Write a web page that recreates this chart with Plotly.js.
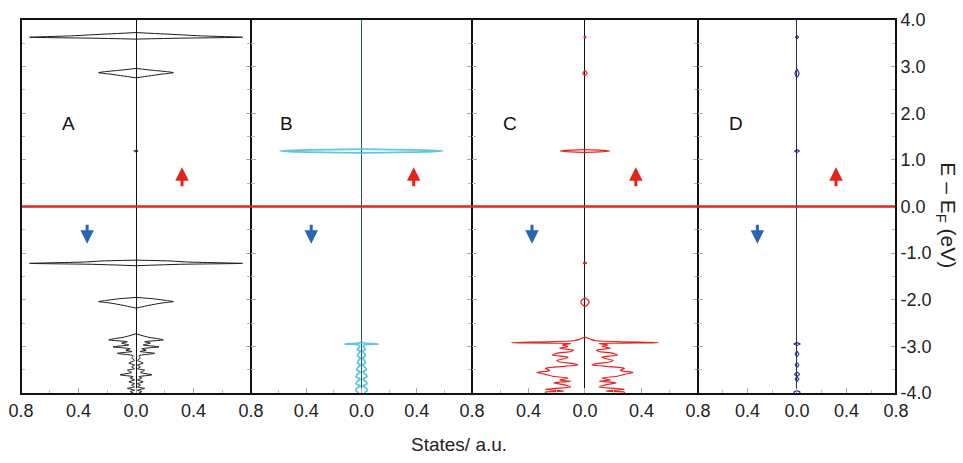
<!DOCTYPE html>
<html>
<head>
<meta charset="utf-8">
<script src="https://cdn.plot.ly/plotly-3.0.1.min.js"></script>
<style>html,body{margin:0;padding:0;background:#fff}</style>
</head>
<body>
<div id="chart" style="width:963px;height:463px"></div>
<script>
// ---------- data ----------
const panelNames = ['A', 'B', 'C', 'D'];

const energyA = [3.75, 3.73, 3.70, 3.66, 3.63, 3.61, 3.59,
  2.96, 2.92, 2.89, 2.87, 2.84, 2.80, 2.76,
  1.21, 1.19, 1.17,
  -1.15, -1.17, -1.19, -1.22, -1.24, -1.27,
  -1.95, -1.98, -2.02, -2.04, -2.07, -2.12, -2.18,
  -2.73, -2.80, -2.86, -2.90, -2.93, -2.97, -3.01, -3.05, -3.08, -3.11, -3.15, -3.20, -3.25, -3.30, -3.36, -3.40,
  -3.44, -3.48, -3.51, -3.56, -3.61, -3.65, -3.68, -3.72, -3.76, -3.80, -3.83, -3.87, -3.90, -3.94, -3.97, -4.00];
const dosA = [0, 0, 0.20, 0.45, 0.74, 0.30, 0,
  0, 0.12, 0.22, 0.26, 0.18, 0.09, 0,
  0, 0.015, 0,
  0, 0.25, 0.35, 0.74, 0.30, 0,
  0, 0.12, 0.22, 0.26, 0.18, 0.09, 0,
  0, 0.08, 0.19, 0.06, 0.10, 0.05, 0.16, 0.04, 0.07, 0.03, 0.13, 0.02, 0.03, 0.01, 0.05, 0.01,
  0.03, 0.01, 0.06, 0.03, 0.11, 0.02, 0.04, 0.01, 0.05, 0.01, 0.03, 0.01, 0.06, 0.01, 0.04, 0.02];

const energyB = [1.23, 1.21, 1.19, 1.17, 1.15,
  -2.90, -2.93, -2.95, -2.97, -3.02, -3.06, -3.10, -3.15, -3.20, -3.25, -3.30, -3.35, -3.40, -3.45,
  -3.50, -3.55, -3.60, -3.65, -3.70, -3.75, -3.80, -3.85, -3.90, -3.95, -4.00];
const dosB = [0, 0.45, 0.59, 0.45, 0,
  0, 0.02, 0.12, 0.02, 0.015, 0.03, 0.01, 0.02, 0.03, 0.01, 0.02, 0.03, 0.01, 0.025,
  0.035, 0.01, 0.03, 0.04, 0.01, 0.03, 0.04, 0.01, 0.035, 0.04, 0.02];

const energyC = [3.65, 3.63, 3.61,
  2.92, 2.86, 2.80,
  1.22, 1.21, 1.19, 1.17, 1.16,
  -1.19, -1.21, -1.23,
  -1.96, -2.00, -2.05, -2.10, -2.15,
  -2.80, -2.85, -2.88, -2.92, -2.94, -2.97, -3.00, -3.04, -3.08, -3.11, -3.15, -3.19, -3.23, -3.26,
  -3.30, -3.33, -3.37, -3.40, -3.44, -3.47, -3.52, -3.56, -3.60, -3.64, -3.68, -3.72, -3.75, -3.78,
  -3.83, -3.87, -3.92, -3.96, -3.98, -4.00];
const dosC = [0, 0.008, 0,
  0, 0.015, 0,
  0, 0.10, 0.175, 0.10, 0,
  0, 0.012, 0,
  0, 0.02, 0.03, 0.02, 0,
  0, 0.04, 0.08, 0.52, 0.10, 0.16, 0.12, 0.18, 0.08, 0.10, 0.20, 0.23, 0.12, 0.14,
  0.20, 0.18, 0.08, 0.05, 0.20, 0.28, 0.25, 0.34, 0.28, 0.23, 0.12, 0.18, 0.10, 0.22,
  0.14, 0.10, 0.28, 0.15, 0.28, 0.28];

const energyD = [3.66, 3.63, 3.60,
  2.95, 2.90, 2.86, 2.80, 2.77,
  1.22, 1.19, 1.16,
  -2.92, -2.95, -2.98,
  -3.10, -3.17, -3.22, -3.35, -3.40, -3.45, -3.55, -3.60, -3.65, -3.70, -3.75,
  -3.95, -3.98, -4.00];
const dosD = [0, 0.012, 0,
  0, 0.010, 0.016, 0.010, 0,
  0, 0.02, 0,
  0, 0.025, 0,
  0, 0.015, 0, 0, 0.015, 0, 0, 0.02, 0, 0.015, 0,
  0, 0.025, 0.02];

const xTickVals = [-0.8, -0.4, 0.0, 0.4, 0.8];
const xTickText = ['0.8', '0.4', '0.0', '0.4', '0.8'];
const yTickVals = [4, 3, 2, 1, 0, -1, -2, -3, -4];
const yTickText = ['4.0', '3.0', '2.0', '1.0', '0.0', '-1.0', '-2.0', '-3.0', '-4.0'];

// ---------- build ----------
const FONT = "'Liberation Sans', Arial, Helvetica, sans-serif";
const curveColors = ['#1a1a1a', '#5ec6dd', '#e8231f', '#2d2d8f'];
const axisLineColors = ['#111111', '#1d5a60', '#111111', '#26266e'];
const zeroWidths = [1, 1.5, 1, 1];
const curveWidths = [1.0, 1.8, 1.2, 1.2];
const energies = [energyA, energyB, energyC, energyD];
const doses = [dosA, dosB, dosC, dosD];

function sideTrace(E, d, sign) {
  const xs = [], ys = [];
  for (let i = 0; i < E.length; i++) {
    xs.push(sign * d[i]); ys.push(E[i]);
    if (i < E.length - 1 && d[i] === 0 && d[i + 1] === 0) { xs.push(null); ys.push(null); }
  }
  return {xs, ys};
}

const traces = [];
for (let p = 0; p < 4; p++) {
  const sfx = p === 0 ? '' : String(p + 1);
  [1, -1].forEach(sign => {
    const s = sideTrace(energies[p], doses[p], sign);
    traces.push({
      type: 'scatter', mode: 'lines', x: s.xs, y: s.ys,
      xaxis: 'x' + sfx, yaxis: 'y' + sfx,
      line: {color: curveColors[p], width: curveWidths[p], shape: 'spline', smoothing: 0.6},
      connectgaps: false, hoverinfo: 'skip', showlegend: false
    });
  });
}

const domains = [[0, 0.2629], [0.2629, 0.5154], [0.5154, 0.7737], [0.7737, 1]];
const layout = {
  width: 963, height: 463,
  margin: {l: 21, r: 67, t: 20, b: 70},
  paper_bgcolor: '#ffffff', plot_bgcolor: '#ffffff',
  showlegend: false, hovermode: false,
  font: {family: FONT, size: 18, color: '#222'},
  shapes: [
    {type: 'line', xref: 'paper', yref: 'y', x0: 0, x1: 1, y0: 0, y1: 0,
     line: {color: '#e3271e', width: 2.5}, layer: 'above'},
    {type: 'line', xref: 'paper', yref: 'paper', x0: 0, x1: 0, y0: 0, y1: 1,
     line: {color: '#111', width: 2}, layer: 'above'},
    {type: 'line', xref: 'paper', yref: 'paper', x0: 1, x1: 1, y0: 0, y1: 1,
     line: {color: '#111', width: 2}, layer: 'above'}
  ],
  annotations: []
};

for (let p = 0; p < 4; p++) {
  const sfx = p === 0 ? '' : String(p + 1);
  const tv = p === 0 ? xTickVals : xTickVals.slice(1);
  const tt = p === 0 ? xTickText : xTickText.slice(1);
  layout['xaxis' + sfx] = {
    domain: domains[p], range: [-0.8, 0.8], anchor: 'y' + sfx,
    tickmode: 'array', tickvals: tv, ticktext: tt,
    ticks: 'inside', ticklen: 5, tickcolor: '#aaa', tickwidth: 1,
    minor: {dtick: 0.2, tick0: 0, ticks: 'inside', ticklen: 3, tickcolor: '#bbb'},
    showline: true, linecolor: '#111', linewidth: 2, mirror: true,
    showgrid: false, zeroline: true, zerolinecolor: axisLineColors[p], zerolinewidth: zeroWidths[p],
    tickfont: {family: FONT, size: 18, color: '#222'}, fixedrange: true
  };
  layout['yaxis' + sfx] = {
    domain: [0, 1], range: [-4, 4], anchor: 'x' + sfx,
    side: p === 3 ? 'right' : 'left',
    tickmode: 'array', tickvals: yTickVals, ticktext: yTickText,
    showticklabels: p === 3,
    ticks: 'inside', ticklen: 5, tickcolor: '#aaa', tickwidth: 1,
    minor: {dtick: 0.5, tick0: 0, ticks: 'inside', ticklen: 4, tickcolor: '#bbb'},
    showline: true, linecolor: '#111', linewidth: 1, mirror: 'ticks',
    showgrid: false, zeroline: false,
    tickfont: {family: FONT, size: 18, color: '#222'}, fixedrange: true
  };
}

// panel letters
const letterX = [-0.47, -0.54, -0.53, -0.49];
for (let p = 0; p < 4; p++) {
  const sfx = p === 0 ? '' : String(p + 1);
  layout.annotations.push({
    xref: 'x' + sfx, yref: 'y' + sfx, x: letterX[p], y: 1.79, text: panelNames[p],
    showarrow: false, font: {family: FONT, size: 19, color: '#111'}
  });
}
// spin arrows
const upX = [0.32, 0.378, 0.36, 0.315];
const downX = [-0.34, -0.364, -0.375, -0.32];
for (let p = 0; p < 4; p++) {
  const sfx = p === 0 ? '' : String(p + 1);
  layout.annotations.push({
    xref: 'x' + sfx, yref: 'y' + sfx, axref: 'x' + sfx, ayref: 'y' + sfx,
    x: upX[p], y: 0.84, ax: upX[p], ay: 0.40, text: '', showarrow: true,
    arrowhead: 2, arrowsize: 0.9, arrowwidth: 3, arrowcolor: '#e3241b'
  });
  layout.annotations.push({
    xref: 'x' + sfx, yref: 'y' + sfx, axref: 'x' + sfx, ayref: 'y' + sfx,
    x: downX[p], y: -0.80, ax: downX[p], ay: -0.36, text: '', showarrow: true,
    arrowhead: 2, arrowsize: 0.9, arrowwidth: 3, arrowcolor: '#2a64b8'
  });
}
// axis titles
layout.annotations.push({
  xref: 'paper', yref: 'paper', x: 0.5, y: -0.139, text: 'States/ a.u.',
  showarrow: false, xanchor: 'center', yanchor: 'middle',
  font: {family: FONT, size: 19, color: '#222'}
});
layout.annotations.push({
  xref: 'paper', yref: 'paper', x: 1.058, y: 0.477, text: 'E – E<sub>F</sub> (eV)',
  showarrow: false, xanchor: 'center', yanchor: 'middle', textangle: 90,
  font: {family: FONT, size: 21, color: '#222'}
});

Plotly.newPlot('chart', traces, layout, {displayModeBar: false, staticPlot: true});
</script>
</body>
</html>
